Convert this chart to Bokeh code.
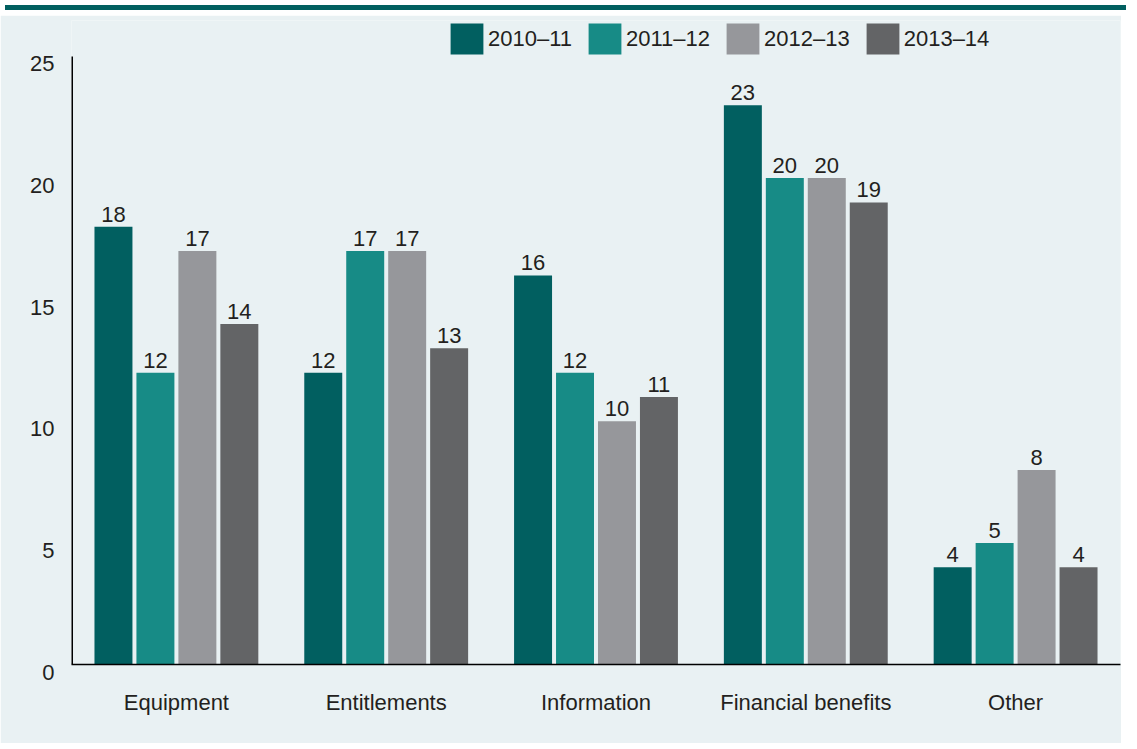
from bokeh.plotting import figure
from bokeh.models import FactorRange, FixedTicker, Legend, LegendItem, Div, ColumnDataSource, Range1d
from bokeh.layouts import column
from bokeh.transform import dodge
from bokeh.core.properties import value
from bokeh.embed import file_html
from bokeh.resources import INLINE

categories = ["Equipment", "Entitlements", "Information", "Financial benefits", "Other"]
series = ["2010\u201311", "2011\u201312", "2012\u201313", "2013\u201314"]
v2010 = [18, 12, 16, 23, 4]
v2011 = [12, 17, 12, 20, 5]
v2012 = [17, 17, 10, 20, 8]
v2013 = [14, 13, 11, 19, 4]
y_ticks = [0, 5, 10, 15, 20, 25]

colors = ["#015f60", "#178b86", "#96979b", "#636466"]
BG = "#e9f1f3"
FONT = "Liberation Sans"
TXT = "#231f20"

src = ColumnDataSource(dict(cat=categories, a=v2010, b=v2011, c=v2012, d=v2013,
                            la=[str(v) for v in v2010], lb=[str(v) for v in v2011],
                            lc=[str(v) for v in v2012], ld=[str(v) for v in v2013]))

p = figure(x_range=FactorRange(*categories), y_range=Range1d(0, 26.48), width=1121, height=728,
           output_backend="svg", toolbar_location=None,
           min_border_left=71, min_border_right=1, min_border_top=5, min_border_bottom=79)
p.background_fill_color = BG
p.border_fill_color = BG
p.outline_line_color = None
p.xgrid.grid_line_color = None
p.ygrid.grid_line_color = None

# y axis line (only up to the last tick)
p.segment(x0=[0], x1=[0], y0=[y_ticks[0]], y1=[y_ticks[-1]], line_color="black", line_width=3)

offsets = [-0.3, -0.1, 0.1, 0.3]
cols = ["a", "b", "c", "d"]
labs = ["la", "lb", "lc", "ld"]
items = []
for off, c, l, col, name in zip(offsets, cols, labs, colors, series):
    r = p.vbar(x=dodge("cat", off, range=p.x_range), top=c, width=0.181, source=src,
               fill_color=col, line_color=None)
    p.text(x=dodge("cat", off, range=p.x_range), y=c, text=l, source=src,
           text_align="center", text_baseline="bottom", y_offset=-5,
           text_font=value(FONT), text_font_size="22px", text_color=TXT)
    items.append(LegendItem(label=name, renderers=[r]))

legend = Legend(items=items, orientation="horizontal", location=(375, 606),
                glyph_width=41, glyph_height=39, label_standoff=1, spacing=12,
                padding=0, margin=0, background_fill_alpha=0, border_line_color=None,
                label_text_font=FONT, label_text_font_size="22px", label_text_color=TXT,
                label_height=31)
p.add_layout(legend, "center")

p.yaxis.ticker = FixedTicker(ticks=y_ticks)
p.yaxis.major_label_overrides = {t: "\n" + str(t) for t in y_ticks}
p.yaxis.major_label_text_line_height = 0.6
p.yaxis.major_tick_line_color = None
p.yaxis.minor_tick_line_color = None
p.yaxis.axis_line_color = None
p.yaxis.major_label_standoff = 11
p.yaxis.major_label_text_font = FONT
p.yaxis.major_label_text_font_size = "22px"
p.yaxis.major_label_text_color = TXT

p.xaxis.major_tick_line_color = None
p.xaxis.minor_tick_line_color = None
p.xaxis.axis_line_color = "black"
p.xaxis.axis_line_width = 1.5
p.xaxis.major_label_standoff = 19
p.xaxis.major_label_text_font = FONT
p.xaxis.major_label_text_font_size = "22px"
p.xaxis.major_label_text_color = TXT

band = Div(width=1121, height=5, styles={"background-color": "#015f60"})
layout = column(band, p, spacing=0)

open("out.html", "w").write(file_html(layout, INLINE))
